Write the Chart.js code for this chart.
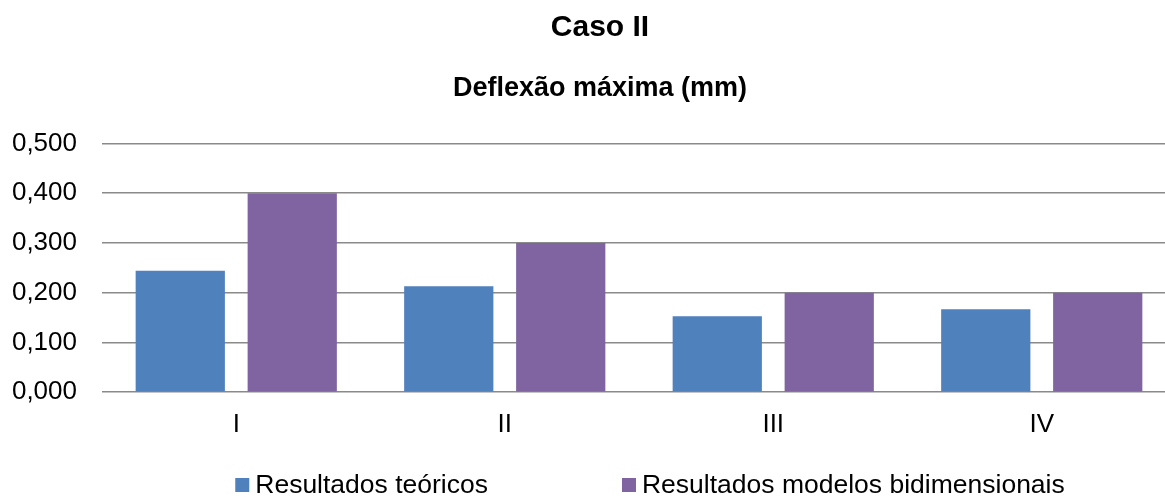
<!DOCTYPE html>
<html>
<head>
<meta charset="utf-8">
<script src="https://cdn.jsdelivr.net/npm/chart.js@4"></script>
<style>
  html, body { margin: 0; padding: 0; background: #ffffff; overflow: hidden; }
  #wrap { width: 1200px; height: 497px; }
</style>
</head>
<body>
<div id="wrap"><canvas id="chart" width="1200" height="497"></canvas></div>
<script>
// Deflexão máxima por caso (mm)
const categories = ['I', 'II', 'III', 'IV'];
const teoricos = [0.244, 0.213, 0.153, 0.167];
const bidimensionais = [0.400, 0.300, 0.200, 0.200];
const seriesNames = ['Resultados teóricos', 'Resultados modelos bidimensionais'];
const yTicks = [0, 0.1, 0.2, 0.3, 0.4, 0.5];

const FONT = '"Liberation Sans", Arial, sans-serif';

// Legend drawn as a single row under the axis, with wide spacing between entries
const rowLegend = {
  id: 'rowLegend',
  afterDraw(chart) {
    const ctx = chart.ctx;
    const size = 26.5, box = 14, gapText = 6, gapItem = 134;
    const yMid = 485;
    ctx.save();
    ctx.font = size + 'px ' + FONT;
    ctx.textBaseline = 'middle';
    ctx.textAlign = 'left';
    const items = chart.data.datasets.map(ds => ({
      text: ds.label, color: ds.backgroundColor, w: ctx.measureText(ds.label).width
    }));
    let total = 0;
    items.forEach((it, i) => { total += box + gapText + it.w + (i ? gapItem : 0); });
    let x = 650 - total / 2;
    items.forEach(it => {
      ctx.fillStyle = it.color;
      ctx.fillRect(x, yMid - box / 2, box, box);
      ctx.fillStyle = '#000000';
      ctx.fillText(it.text, x + box + gapText, yMid + 1);
      x += box + gapText + it.w + gapItem;
    });
    ctx.restore();
  }
};

// Center the title and subtitle over the page width rather than the padded area
const centerTitles = {
  id: 'centerTitles',
  afterLayout(chart) {
    chart.boxes.forEach(b => {
      if (!b.axis && b.options && typeof b.options.text === 'string') {
        b.left = 24;
        b.right = 1176;
      }
    });
  }
};

new Chart(document.getElementById('chart'), {
  type: 'bar',
  data: {
    labels: categories,
    datasets: [
      { label: seriesNames[0], data: teoricos, backgroundColor: '#4F81BD',
        categoryPercentage: 0.834, barPercentage: 0.797 },
      { label: seriesNames[1], data: bidimensionais, backgroundColor: '#8064A2',
        categoryPercentage: 0.834, barPercentage: 0.797 }
    ]
  },
  options: {
    responsive: false,
    animation: false,
    layout: { padding: { left: 12, right: 24, top: 0, bottom: 56.5 } },
    plugins: {
      legend: { display: false },
      tooltip: { enabled: false },
      title: {
        display: true, text: 'Caso II', color: '#000000',
        font: { family: FONT, size: 30, weight: 'bold' },
        padding: { top: 10, bottom: 26 }
      },
      subtitle: {
        display: true, text: 'Deflexão máxima (mm)', color: '#000000',
        font: { family: FONT, size: 27, weight: 'bold' },
        padding: { top: 0, bottom: 39 }
      }
    },
    scales: {
      x: {
        afterFit(axis) { axis.height = 48.2; },
        grid: { display: false, drawTicks: false },
        border: { display: false },
        ticks: { color: '#000000', font: { family: FONT, size: 26 }, padding: 17 }
      },
      y: {
        min: 0, max: 0.5,
        afterFit(axis) { axis.width = 90; },
        afterBuildTicks(axis) { axis.ticks = yTicks.map(v => ({ value: v })); },
        grid: { color: '#8a8a8a', lineWidth: 1.6, drawTicks: false },
        border: { display: false },
        ticks: {
          color: '#000000', font: { family: FONT, size: 26 }, padding: 25,
          callback: v => Number(v).toFixed(3).replace('.', ',')
        }
      }
    }
  },
  plugins: [rowLegend, centerTitles]
});
</script>
</body>
</html>
